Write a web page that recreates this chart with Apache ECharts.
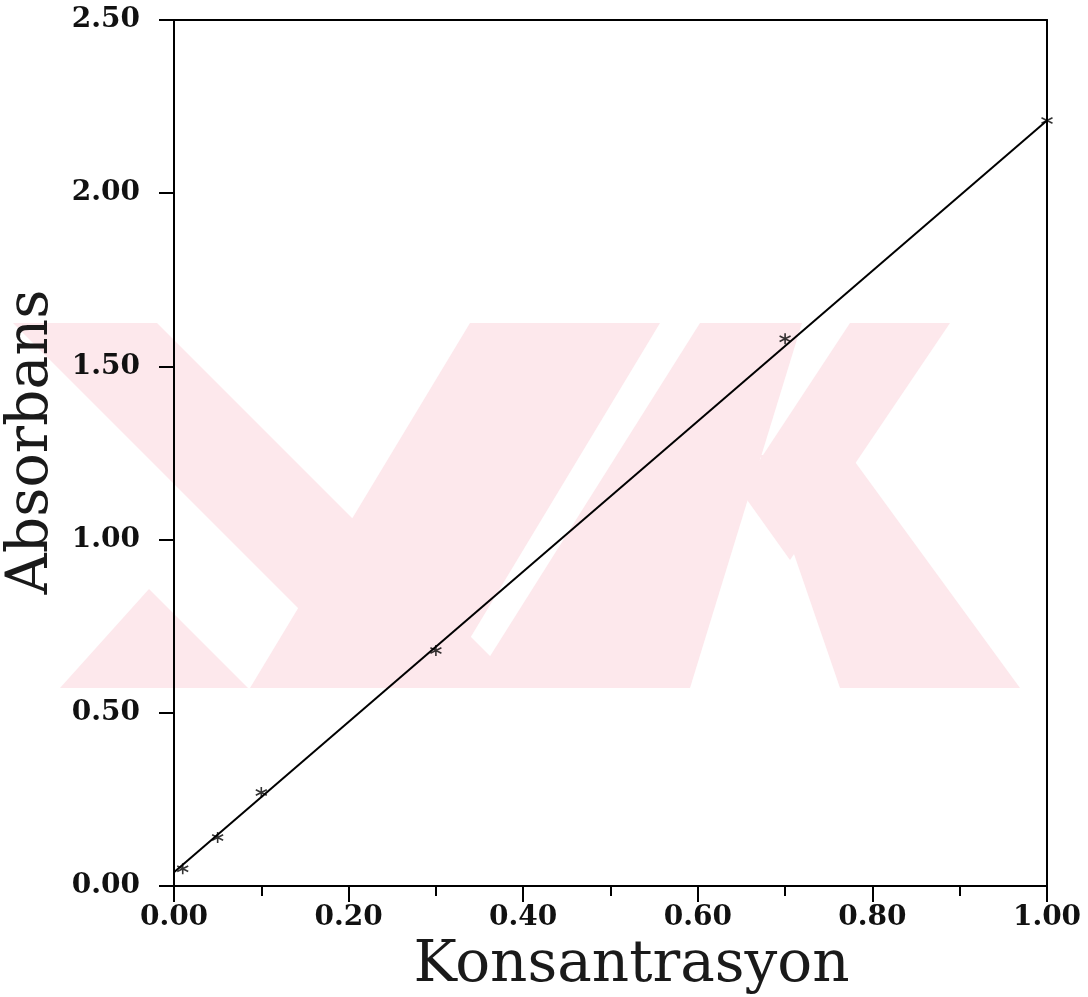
<!DOCTYPE html>
<html>
<head>
<meta charset="utf-8">
<script src="https://cdn.jsdelivr.net/npm/echarts@6/dist/echarts.min.js"></script>
<style>
html,body{margin:0;padding:0;background:#fff;}
#chart{width:1088px;height:997px;}
</style>
</head>
<body>
<div id="chart"></div>
<script>
// Data
var concentrations = [0.01, 0.05, 0.10, 0.30, 0.70, 1.00];
var absorbances = [0.05, 0.14, 0.27, 0.68, 1.58, 2.21];
var fitX = [0.00, 1.00];
var fitY = [0.04, 2.21];
var xTitle = 'Konsantrasyon';
var yTitle = 'Absorbans';

var points = concentrations.map(function (c, i) { return [c, absorbances[i]]; });
var fitLine = fitX.map(function (c, i) { return [c, fitY[i]]; });

var serif = '"DejaVu Serif", "Liberation Serif", serif';
var asterisk = 'path://M0,-5L0,5M-4.33,-2.5L4.33,2.5M-4.33,2.5L4.33,-2.5';
var pink = '#fde8ec';

// faint background watermark (scan decoration, not data)
function wm(pts) {
  return {type: 'polygon', z: -10, silent: true, shape: {points: pts}, style: {fill: pink}};
}
var watermark = [
  wm([[13,323],[157,323],[522,688],[378,688]]),
  wm([[60,688],[149,589],[248,688]]),
  wm([[470,323],[660,323],[440,688],[250,688]]),
  wm([[700,323],[802,323],[690,688],[470,688]]),
  wm([[850,323],[950,323],[790,560],[740,490]]),
  wm([[760,455],[850,455],[1020,688],[840,688]])
];

var chart = echarts.init(document.getElementById('chart'), null, {renderer: 'canvas'});
chart.setOption({
  backgroundColor: '#ffffff',
  animation: false,
  graphic: {elements: watermark},
  grid: {left: 174, right: 41, top: 20, bottom: 111, containLabel: false, outerBoundsMode: 'none'},
  xAxis: [{
    type: 'value', min: 0, max: 1, interval: 0.2, position: 'bottom',
    name: xTitle, nameLocation: 'middle', nameGap: 44,
    nameTextStyle: {fontFamily: serif, fontSize: 58, color: '#1a1a1a', padding: [0, 0, 0, 42]},
    axisLine: {show: true, onZero: false, lineStyle: {color: '#000', width: 2}},
    axisTick: {show: true, inside: false, length: 16, lineStyle: {color: '#000', width: 2}},
    minorTick: {show: true, splitNumber: 2, length: 10, lineStyle: {color: '#000', width: 2}},
    axisLabel: {margin: 18, fontFamily: serif, fontSize: 28, fontWeight: 'bold', color: '#111',
      formatter: function (v) { return v.toFixed(2); }},
    splitLine: {show: false}
  }, {
    type: 'value', min: 0, max: 1, position: 'top',
    axisLine: {show: true, onZero: false, lineStyle: {color: '#000', width: 2}},
    axisTick: {show: false}, axisLabel: {show: false}, splitLine: {show: false}
  }],
  yAxis: [{
    type: 'value', min: 0, max: 2.5, interval: 0.5, position: 'left',
    name: yTitle, nameLocation: 'middle', nameGap: 104,
    nameTextStyle: {fontFamily: serif, fontSize: 57, color: '#1a1a1a', padding: [0, 0, 0, 22]},
    axisLine: {show: true, onZero: false, lineStyle: {color: '#000', width: 2}},
    axisTick: {show: true, inside: false, length: 15, lineStyle: {color: '#000', width: 2}},
    axisLabel: {margin: 34, fontFamily: serif, fontSize: 28, fontWeight: 'bold', color: '#111',
      formatter: function (v) { return v.toFixed(2); }},
    splitLine: {show: false}
  }, {
    type: 'value', min: 0, max: 2.5, position: 'right',
    axisLine: {show: true, onZero: false, lineStyle: {color: '#000', width: 2}},
    axisTick: {show: false}, axisLabel: {show: false}, splitLine: {show: false}
  }],
  series: [{
    type: 'line', data: fitLine, xAxisIndex: 0, yAxisIndex: 0,
    showSymbol: false, symbol: 'none',
    lineStyle: {color: '#000', width: 2}, z: 2
  }, {
    type: 'scatter', data: points, xAxisIndex: 0, yAxisIndex: 0,
    symbol: asterisk, symbolSize: 11,
    itemStyle: {color: 'rgba(0,0,0,0)', borderColor: '#000', borderWidth: 1.6}, z: 3
  }]
});
</script>
</body>
</html>
